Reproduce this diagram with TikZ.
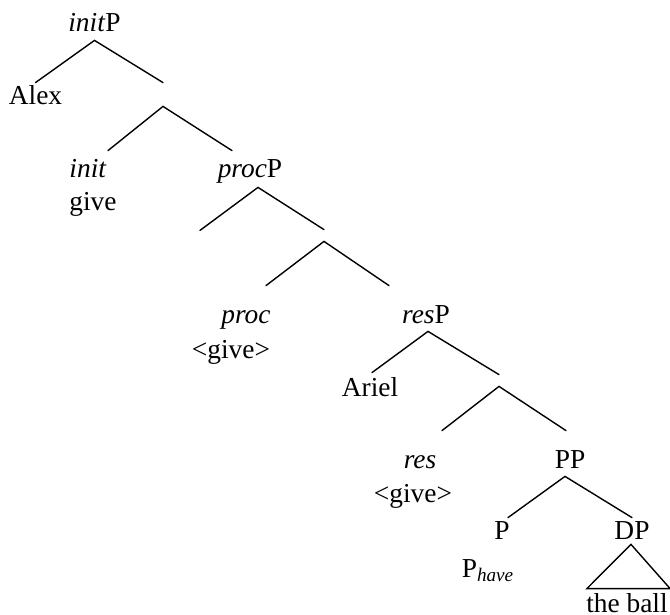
\documentclass[tikz,border=0pt]{standalone}
\usepackage{fontspec}
\setmainfont{Liberation Serif}[ItalicFont=Liberation Serif Italic]
\tikzset{
  syn/label/.style={
    anchor=base,
    inner xsep=0pt,
    inner ysep=4pt,
    text height=9pt,
    text depth=0pt,
    font=\fontsize{13.7}{16}\selectfont
  },
  syn/bar/.style={inner sep=0pt, minimum width=0pt},
  syn/branch/.style={line width=0.7pt, draw=black, line cap=round, line join=miter}
}

\begin{document}
\begin{tikzpicture}[x=0.5pt,y=-0.5pt]
  \useasboundingbox (0,0) rectangle (670,615);
  \node[syn/label] (initP) at (94.5,32) {\textit{init}P};
  \node[syn/label] (alex) at (35.5,105) {Alex};
  \node[syn/bar,minimum height=11.5pt] (bar1) at (163,94.5) {};
  \node[syn/label] (init) at (88,177) {\textit{init}};
  \node[syn/label] (initV) at (93,211) {give};
  \node[syn/label] (procP) at (250,177) {\textit{proc}P};
  \node[syn/bar,minimum height=5.5pt] (bar2) at (324,235.5) {};
  \node[syn/label] (proc) at (246,323) {\textit{proc}};
  \node[syn/label] (procV) at (231,358) {\textless give\textgreater};
  \node[syn/label] (resP) at (426,323) {\textit{res}P};
  \node[syn/label] (ariel) at (370,396) {Ariel};
  \node[syn/bar,minimum height=5.5pt] (bar3) at (499,380.5) {};
  \node[syn/label] (res) at (420,468) {\textit{res}};
  \node[syn/label] (resV) at (413,502) {\textless give\textgreater};
  \node[syn/label] (PP) at (570,468) {PP};
  \node[syn/label] (P) at (502,539) {P};
  \node[syn/label] (Phave) at (488,577) {P\textsubscript{\textit{have}}};
  \node[syn/label] (DP) at (632,539) {DP};
  \node[syn/label] (ball) at (627,612) {the ball};
  \draw[syn/branch] ([shift={(0,4)}]alex.north) -- (initP.south) -- (bar1.north);
  \draw[syn/branch] ([shift={(20,0)}]init.north) -- (bar1.south) -- ([shift={(-18,0)}]procP.north);
  \draw[syn/branch] ([shift={(-50,45)}]procP.south) -- ([shift={(8,2)}]procP.south) -- (bar2.north);
  \draw[syn/branch] ([shift={(20,-11)}]proc.north) -- (bar2.south) -- ([shift={(-37,-11)}]resP.north);
  \draw[syn/branch] ([shift={(2,3)}]ariel.north) -- ([shift={(2,0)}]resP.south) -- (bar3.north);
  \draw[syn/branch] ([shift={(22,-11)}]res.north) -- (bar3.south) -- ([shift={(-4,-11)}]PP.north);
  \draw[syn/branch] ([shift={(6,5)}]P.north) -- ([shift={(-5,0)}]PP.south) -- ([shift={(0,5)}]DP.north);
  \draw[syn/branch] ([shift={(-1,-3)}]DP.south) -- ([shift={(1,3)}]ball.north west) -- ([shift={(2,3)}]ball.north east) -- cycle;
\end{tikzpicture}
\end{document}
